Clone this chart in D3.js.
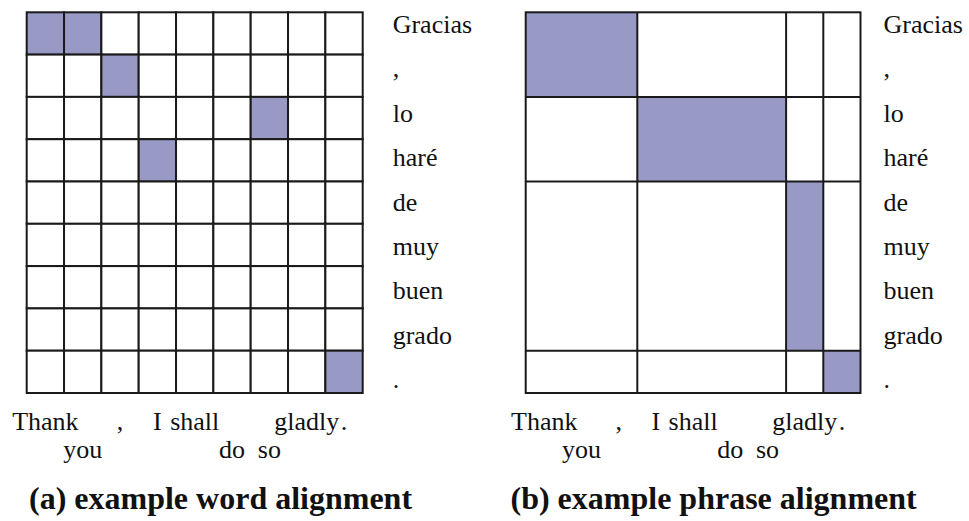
<html>
<head>
<meta charset="utf-8">
<title>word / phrase alignment</title>
<script src="https://d3js.org/d3.v7.min.js"></script>
<style>
  body { margin: 0; background: #fff; }
  text { font-family: "Liberation Serif", "Times New Roman", serif; fill: #111; }
</style>
</head>
<body>
<svg id="chart" width="969" height="521"></svg>
<script>

// source (english) tokens along the bottom, target (spanish) tokens down the right
var english = ["Thank", "you", ",", "I", "shall", "do", "so", "gladly", "."];
var englishRow = [0, 1, 0, 0, 0, 1, 1, 0, 0];   // which of the two label lines
var spanish = ["Gracias", ",", "lo", "haré", "de", "muy", "buen", "grado", "."];

// word alignment: [english index, spanish index]
var wordLinks = [[0, 0], [1, 0], [2, 1], [6, 2], [3, 3], [8, 8]];

// phrase alignment: [english from, english to, spanish from, spanish to]
var phrases = [[0, 2, 0, 1], [3, 6, 2, 3], [7, 7, 4, 7], [8, 8, 8, 8]];

var captions = ["(a) example word alignment", "(b) example phrase alignment"];

var fillColor = "#9999c6",
    lineColor = "#1a1a1a";

var svg = d3.select("#chart");

var panels = [
  {x0: 26.7, x1: 362.7, labelGap: 30, capX: 29},
  {x0: 525.7, x1: 860.5, labelGap: 23, capX: 510.5}
];
var gridTop = 12.3, gridBottom = 393;

panels.forEach(function(p, k) {
  var x = d3.scaleBand().domain(d3.range(english.length)).range([p.x0, p.x1]);
  var y = d3.scaleBand().domain(d3.range(spanish.length)).range([gridTop, gridBottom]);
  // labels sit on a slightly wider spacing than the rows
  var yLab = d3.scalePoint().domain(d3.range(spanish.length)).range([33, 388]);

  var g = svg.append("g");

  if (k == 0) {
    var linked = {};
    wordLinks.forEach(function(l) { linked[l[0] + "_" + l[1]] = true; });
    var cells = [];
    spanish.forEach(function(s, j) {
      english.forEach(function(e, i) { cells.push([i, j]); });
    });
    g.selectAll("rect.cell").data(cells).enter().append("rect")
      .attr("class", "cell")
      .attr("x", function(d) { return x(d[0]); })
      .attr("y", function(d) { return y(d[1]); })
      .attr("width", x.bandwidth())
      .attr("height", y.bandwidth())
      .attr("fill", function(d) { return linked[d[0] + "_" + d[1]] ? fillColor : "#fff"; })
      .attr("stroke", lineColor)
      .attr("stroke-width", 2);
  } else {
    g.selectAll("rect.phrase").data(phrases).enter().append("rect")
      .attr("class", "phrase")
      .attr("x", function(d) { return x(d[0]); })
      .attr("y", function(d) { return y(d[2]); })
      .attr("width", function(d) { return x(d[1]) + x.bandwidth() - x(d[0]); })
      .attr("height", function(d) { return y(d[3]) + y.bandwidth() - y(d[2]); })
      .attr("fill", fillColor);

    // phrase boundaries run across the whole grid
    var vCuts = phrases.slice(1).map(function(d) { return x(d[0]); });
    var hCuts = phrases.slice(1).map(function(d) { return y(d[2]); });
    g.selectAll("line.v").data(vCuts).enter().append("line")
      .attr("x1", function(d) { return d; }).attr("x2", function(d) { return d; })
      .attr("y1", gridTop).attr("y2", gridBottom)
      .attr("stroke", lineColor).attr("stroke-width", 2);
    g.selectAll("line.h").data(hCuts).enter().append("line")
      .attr("y1", function(d) { return d; }).attr("y2", function(d) { return d; })
      .attr("x1", p.x0).attr("x2", p.x1)
      .attr("stroke", lineColor).attr("stroke-width", 2);
    g.append("rect")
      .attr("x", p.x0).attr("y", gridTop)
      .attr("width", p.x1 - p.x0).attr("height", gridBottom - gridTop)
      .attr("fill", "none")
      .attr("stroke", lineColor).attr("stroke-width", 2);
  }

  // spanish labels
  g.selectAll("text.es").data(spanish).enter().append("text")
    .attr("class", "es")
    .attr("x", p.x1 + p.labelGap)
    .attr("y", function(d, j) { return yLab(j); })
    .style("font-size", "26px")
    .text(function(d) { return d; });

  // english labels, staggered on two lines
  g.selectAll("text.en").data(english).enter().append("text")
    .attr("class", "en")
    .attr("x", function(d, i) { return x(i) + x.bandwidth() / 2; })
    .attr("y", function(d, i) { return englishRow[i] ? 457.5 : 430; })
    .attr("text-anchor", "middle")
    .style("font-size", "26px")
    .text(function(d) { return d; });

  svg.append("text")
    .attr("x", p.capX)
    .attr("y", 509)
    .style("font-size", "32px")
    .style("font-weight", "bold")
    .text(captions[k]);
});

</script>
</body>
</html>
